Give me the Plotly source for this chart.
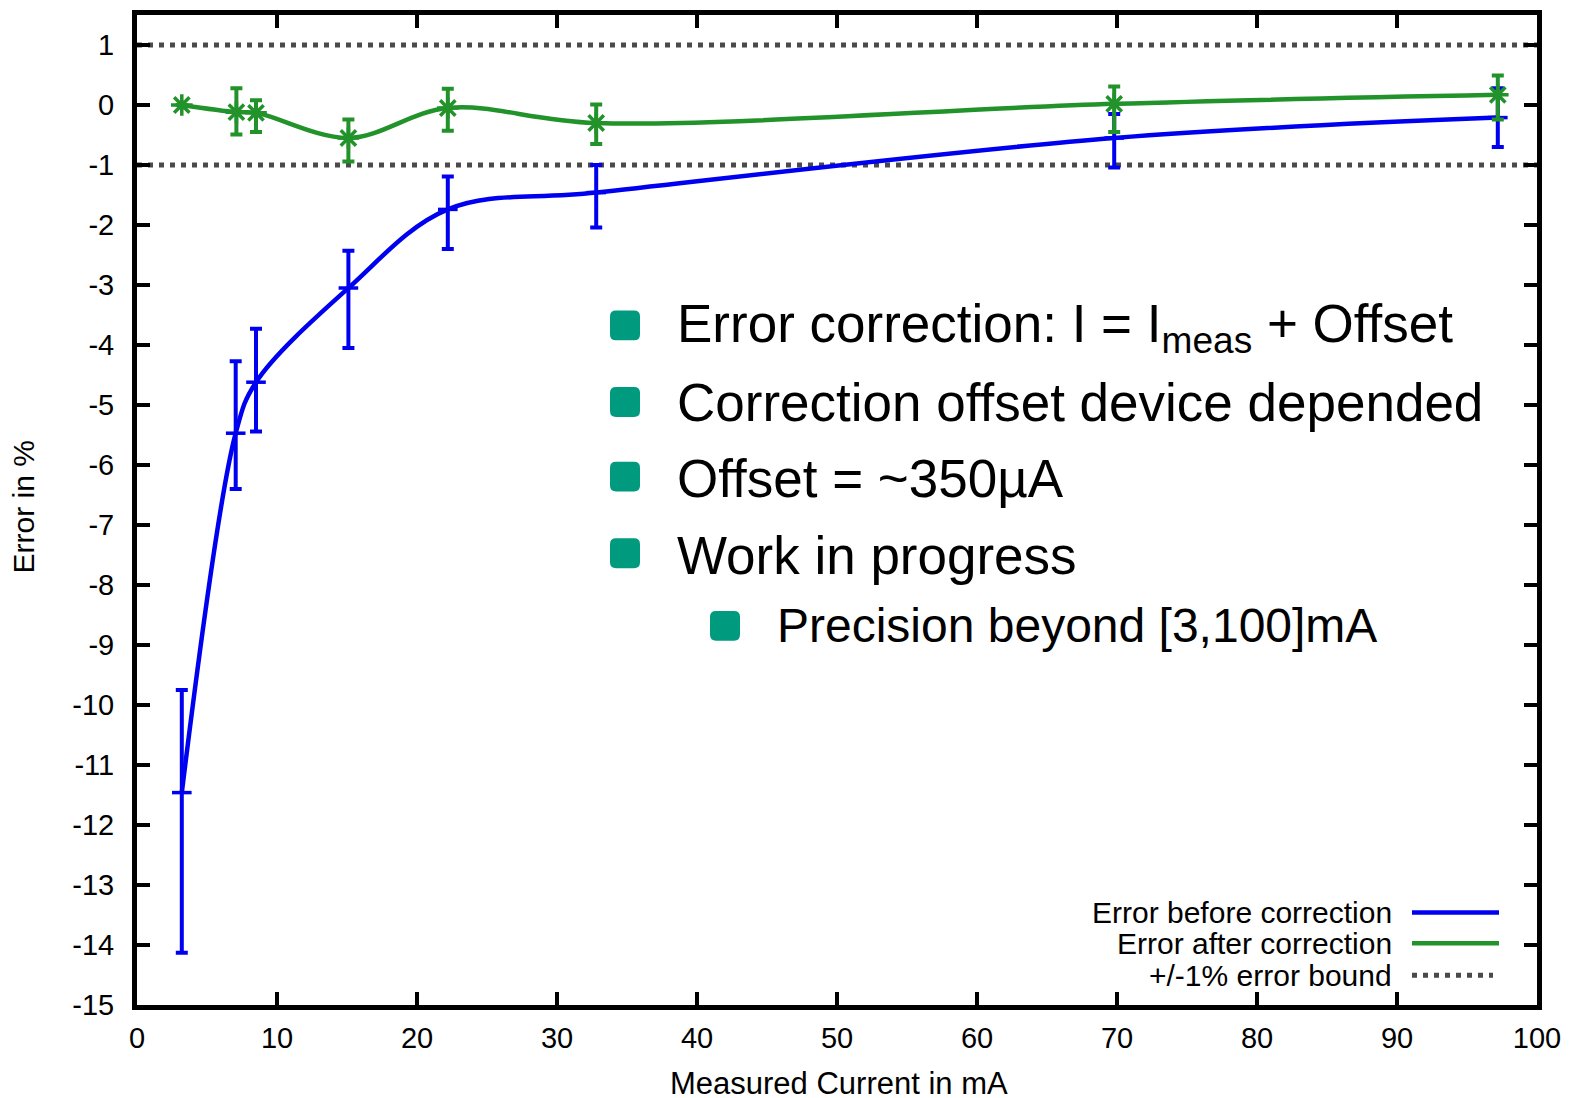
import plotly.graph_objects as go

# ---- data ----
x_before = [3.2, 7.05, 8.5, 15.1, 22.2, 32.8, 69.8, 97.2]
y_before = [-11.46, -5.47, -4.62, -3.05, -1.74, -1.46, -0.55, -0.21]
plus_before = [1.71, 1.20, 0.89, 0.62, 0.55, 0.46, 0.40, 0.49]
minus_before = [2.67, 0.93, 0.82, 1.00, 0.66, 0.58, 0.49, 0.49]

x_after = [3.2, 7.1, 8.5, 15.1, 22.2, 32.8, 69.8, 97.2]
y_after = [0.0, -0.12, -0.13, -0.55, -0.05, -0.30, 0.02, 0.17]
plus_after = [0.0, 0.40, 0.21, 0.31, 0.32, 0.31, 0.29, 0.32]
minus_after = [0.0, 0.37, 0.32, 0.39, 0.38, 0.35, 0.47, 0.41]

bound_x = [0, 100]
bounds = [1, -1]

x_ticks = list(range(0, 101, 10))
y_ticks = list(range(-15, 2, 1))

legend_names = ["Error before correction", "Error after correction", "+/-1% error bound"]
bullets = [
    "Error correction: I = I<sub>meas</sub> + Offset",
    "Correction offset device depended",
    "Offset = ~350µA",
    "Work in progress",
]
sub_bullet = "Precision beyond [3,100]mA"

BLUE = "#0000F0"
GREEN = "#22922A"
GRAY = "#4a4a4a"
TEAL = "#009A7E"
FONT = "Liberation Sans, Arial, sans-serif"
DOTS = "5px,6px"

W, H = 1579, 1098
L, R, T, B = 137, 1537, 10, 1005


def px(xp):
    return (xp - L) / (R - L)


def py(yp):
    return (B - yp) / (B - T)


fig = go.Figure()

for yb in bounds:
    fig.add_trace(go.Scatter(
        x=bound_x, y=[yb, yb], mode="lines",
        line=dict(color=GRAY, width=5, dash=DOTS),
        hoverinfo="skip", showlegend=False))

fig.add_trace(go.Scatter(
    x=x_before, y=y_before, mode="lines+markers",
    line=dict(color=BLUE, width=4.5, shape="spline", smoothing=1.0),
    marker=dict(symbol="line-ew-open", size=14, color=BLUE, line=dict(color=BLUE, width=3.5)),
    error_y=dict(type="data", symmetric=False, array=plus_before, arrayminus=minus_before,
                 color=BLUE, thickness=4, width=6),
    name=legend_names[0], showlegend=False))

fig.add_trace(go.Scatter(
    x=x_after, y=y_after, mode="lines+markers",
    line=dict(color=GREEN, width=4.5, shape="spline", smoothing=1.0),
    marker=dict(symbol="asterisk-open", size=18, color=GREEN, line=dict(color=GREEN, width=3.5)),
    error_y=dict(type="data", symmetric=False, array=plus_after, arrayminus=minus_after,
                 color=GREEN, thickness=4, width=6),
    name=legend_names[1], showlegend=False))

shapes = []
annotations = []

# legend (text right, sample on the right)
leg_y = [912, 943, 975]
leg_styles = [dict(color=BLUE, width=4.5), dict(color=GREEN, width=4.5),
              dict(color=GRAY, width=5, dash=DOTS)]
leg_x1 = [1499, 1499, 1493]
for name, yy, st, x1 in zip(legend_names, leg_y, leg_styles, leg_x1):
    annotations.append(dict(x=px(1393), y=py(yy), xref="paper", yref="paper",
                            text=name, showarrow=False, xanchor="right", yanchor="middle",
                            borderpad=0,
                            font=dict(family=FONT, size=30, color="black")))
    shapes.append(dict(type="line", xref="paper", yref="paper",
                       x0=px(1412), x1=px(x1), y0=py(yy), y1=py(yy), line=st))


def rounded_square(cx, cy, half=15, r=6):
    x0, x1 = cx - half, cx + half
    y0, y1 = cy - half, cy + half
    pts = [
        f"M {px(x0 + r)},{py(y0)}",
        f"L {px(x1 - r)},{py(y0)}",
        f"Q {px(x1)},{py(y0)} {px(x1)},{py(y0 + r)}",
        f"L {px(x1)},{py(y1 - r)}",
        f"Q {px(x1)},{py(y1)} {px(x1 - r)},{py(y1)}",
        f"L {px(x0 + r)},{py(y1)}",
        f"Q {px(x0)},{py(y1)} {px(x0)},{py(y1 - r)}",
        f"L {px(x0)},{py(y0 + r)}",
        f"Q {px(x0)},{py(y0)} {px(x0 + r)},{py(y0)} Z",
    ]
    return dict(type="path", xref="paper", yref="paper", path=" ".join(pts),
                fillcolor=TEAL, line=dict(width=0))


bullet_y = [322, 399, 474, 551]
text_y = [324, 399, 476, 553]
for t, by, ty in zip(bullets, bullet_y, text_y):
    shapes.append(rounded_square(625, by))
    annotations.append(dict(x=px(675), y=py(ty), xref="paper", yref="paper",
                            text=t, showarrow=False, xanchor="left", yanchor="middle",
                            font=dict(family=FONT, size=53, color="black")))
shapes.append(rounded_square(725, 624))
annotations.append(dict(x=px(775), y=py(624), xref="paper", yref="paper",
                        text=sub_bullet, showarrow=False, xanchor="left", yanchor="middle",
                        font=dict(family=FONT, size=48, color="black")))

# axis titles
annotations.append(dict(x=px(839), y=py(1084), xref="paper", yref="paper",
                        text="Measured Current in mA", showarrow=False,
                        xanchor="center", yanchor="middle",
                        font=dict(family=FONT, size=31, color="black")))
annotations.append(dict(x=px(24), y=py(505), xref="paper", yref="paper",
                        text="Error in %", showarrow=False, textangle=-90,
                        xanchor="center", yanchor="middle",
                        font=dict(family=FONT, size=30, color="black")))

axis_common = dict(showgrid=False, zeroline=False, showline=True, linecolor="black",
                   linewidth=5, mirror="allticks", ticks="inside", ticklen=13,
                   tickwidth=3.5, tickcolor="black",
                   tickfont=dict(family=FONT, size=29, color="black"))

fig.update_xaxes(range=[0, 100], tickvals=x_ticks, ticktext=[str(v) for v in x_ticks],
                 ticklabelstandoff=3, **axis_common)
fig.update_yaxes(range=[-15, 1.5], tickvals=y_ticks, ticktext=[str(v) for v in y_ticks],
                 ticklabelstandoff=12, **axis_common)

fig.update_layout(
    width=W, height=H,
    margin=dict(l=L, r=W - R, t=T, b=H - B, pad=0),
    plot_bgcolor="white", paper_bgcolor="white",
    shapes=shapes, annotations=annotations, showlegend=False,
)

fig.write_html("out.html")
